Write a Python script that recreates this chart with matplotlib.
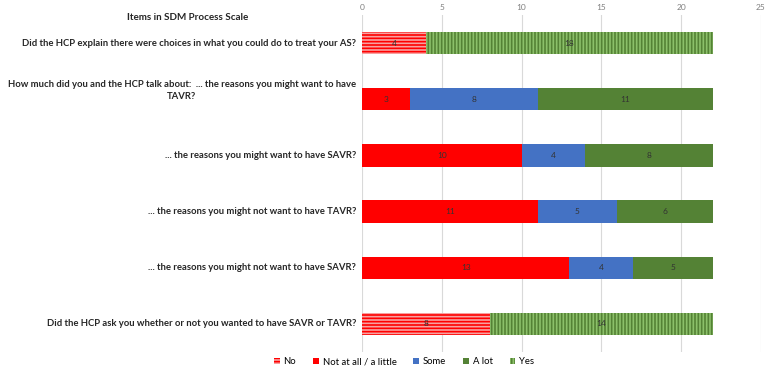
import matplotlib
matplotlib.use("Agg")
import matplotlib.pyplot as plt
import matplotlib.transforms as mtransforms
import numpy as np

plt.rcParams['font.family'] = ['Lato', 'DejaVu Sans']
plt.rcParams['hatch.linewidth'] = 1.2

categories = [
    "Did the HCP explain there were choices in what you could do to treat your AS?",
    "How much did you and the HCP talk about:  ... the reasons you might want to have\nTAVR?",
    "... the reasons you might want to have SAVR?",
    "... the reasons you might not want to have TAVR?",
    "... the reasons you might not want to have SAVR?",
    "Did the HCP ask you whether or not you wanted to have SAVR or TAVR?",
]
series_names = ["No", "Not at all / a little", "Some", "A lot", "Yes"]
no_vals = [4, 0, 0, 0, 0, 8]
notatall_vals = [0, 3, 10, 11, 13, 0]
some_vals = [0, 8, 4, 5, 4, 0]
alot_vals = [0, 11, 8, 6, 5, 0]
yes_vals = [18, 0, 0, 0, 0, 14]
xticks = [0, 5, 10, 15, 20, 25]

styles = [
    dict(facecolor='#f7a0a0', edgecolor='#ff0000', hatch='-----'),
    dict(facecolor='#ff0000', edgecolor='none'),
    dict(facecolor='#4472c4', edgecolor='none'),
    dict(facecolor='#548235', edgecolor='none'),
    dict(facecolor='#8cc06a', edgecolor='#548235', hatch='|||||'),
]

fig = plt.figure(figsize=(7.66, 3.71), dpi=100)
ax = fig.add_axes([362/766, 1-352/371, (761-362)/766, (352-15)/371])

y = np.arange(len(categories))
left = np.zeros(len(categories))
all_series = [no_vals, notatall_vals, some_vals, alot_vals, yes_vals]
handles = []
for name, vals, st in zip(series_names, all_series, styles):
    vals = np.array(vals, dtype=float)
    bars = ax.barh(y, vals, left=left, height=0.4, label=name, linewidth=0, zorder=3, **st)
    handles.append(bars)
    for yi, (l, v) in enumerate(zip(left, vals)):
        if v > 0:
            ax.text(l + v/2, yi, f"{int(v)}", ha='center', va='center', fontsize=6,
                    color='#333333', zorder=4)
    left = left + vals

ax.set_xlim(0, 25)
ax.set_ylim(len(categories) - 0.5, -0.5)
ax.set_xticks(xticks)
ax.xaxis.tick_top()
ax.tick_params(axis='x', length=0, labelsize=6, labelcolor='#7f7f7f', pad=3)
ax.grid(axis='x', color='#d9d9d9', linewidth=0.8, zorder=0)
ax.set_axisbelow(True)
for s in ax.spines.values():
    s.set_visible(False)
ax.set_yticks(y)
ax.set_yticklabels([])
ax.tick_params(axis='y', length=0)

base = mtransforms.blended_transform_factory(ax.transAxes, ax.transData)
for yi, lab in enumerate(categories):
    dy = 9/100 if "\n" in lab else 0
    tr = base + mtransforms.ScaledTranslation(-6/100, dy, fig.dpi_scale_trans)
    ax.text(0, yi, lab, transform=tr, ha='right', va='center', multialignment='center',
            fontsize=6.85, fontweight='bold', color='#262626', linespacing=1.4)

fig.text(188/766, 1-18/371, "Items in SDM Process Scale", ha='center', va='center',
         fontsize=7.1, fontweight='bold', color='#262626')

fig.legend(handles=handles, labels=series_names, loc='center', bbox_to_anchor=(404/766, 1-362/371),
           ncol=5, frameon=False, fontsize=6.8, handlelength=0.6, handleheight=0.6,
           columnspacing=1.8, handletextpad=0.4)

fig.savefig("out.png", dpi=100)
